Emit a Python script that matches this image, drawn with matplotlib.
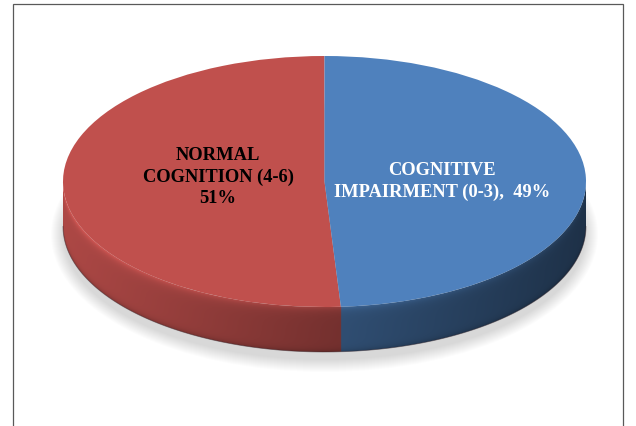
import numpy as np
import matplotlib.pyplot as plt
from matplotlib.patches import Ellipse, Rectangle, Polygon
from matplotlib.colors import to_rgb

# cognition score groups
categories = ["NORMAL\nCOGNITION (4-6)", "COGNITIVE\nIMPAIRMENT (0-3)"]
values = [51, 49]
colors = ["#C0504D", "#4F81BD"]
label_sep = ["\n", ",  "]
label_colors = ["black", "white"]
label_pos = [(-0.407, 0.044), (0.449, 0.008)]

W, H = 636, 427
fig = plt.figure(figsize=(W / 100, H / 100), dpi=100)
ax = fig.add_axes([0, 0, 1, 1])

# ellipse in pixels: centre, half width, half height, thickness of the disc
cx, cy = 324.5, 182.5
a, b = 261.5, 125.5
depth = 45 / b

wedges, _ = ax.pie(values, colors=colors, startangle=90, counterclock=True,
                   wedgeprops=dict(linewidth=0, zorder=5))
ax.set_aspect("auto")
ax.set_xlim(-cx / a, (W - cx) / a)
ax.set_ylim((cy - H) / b, cy / b)
ax.axis("off")

# soft drop shadow under the disc
for e in range(13):
    ax.add_patch(Ellipse((0, -depth - 8 / b), 2 * (a + e) / a, 2 * (b + e) / b,
                         facecolor="black", edgecolor="none", alpha=0.011, zorder=1))

# side wall of the disc: shaded image clipped to the front rim
nx, ny = 1200, 260
X, Y = np.meshgrid(np.linspace(-1, 1, nx), np.linspace(0, -1 - depth, ny))
ytop = -np.sqrt(np.clip(1 - X ** 2, 0, 1))
t = np.clip((ytop - Y) / depth, 0, 1)
theta = 360 - np.degrees(np.arccos(X))
sx = np.interp(X, [-1, 0, 1], [0.9, 0.62, 0.38])
f = sx * (1 + 0.32 * np.exp(-t / 0.09)) * (1 - 0.18 * np.exp(-(1 - t) / 0.06))
img = np.zeros((ny, nx, 3))
for w, col in zip(wedges, colors):
    inside = np.zeros_like(X, dtype=bool)
    for off in (0, -360, 360):
        inside |= (theta >= w.theta1 + off) & (theta <= w.theta2 + off)
    img[inside] = np.array(to_rgb(col))
img = np.clip(img * f[..., None], 0, 1)

ang = np.radians(np.linspace(180, 360, 361))
rim = np.column_stack([np.cos(ang), np.sin(ang)])
outline = np.vstack([rim, (rim - [0, depth])[::-1]])
clip = Polygon(outline, closed=True, transform=ax.transData)
im = ax.imshow(img, extent=(-1, 1, -1 - depth, 0), origin="upper",
               interpolation="bilinear", aspect="auto", zorder=3)
im.set_clip_path(clip)
ax.plot(outline[len(rim):, 0], outline[len(rim):, 1], color="#3a2a30", lw=0.6,
        alpha=0.5, zorder=3)
ax.set_xlim(-cx / a, (W - cx) / a)
ax.set_ylim((cy - H) / b, cy / b)

for cat, v, sep, tc, (tx, ty) in zip(categories, values, label_sep, label_colors, label_pos):
    ax.text(tx, ty, f"{cat}{sep}{v}%", ha="center", va="center", color=tc,
            fontsize=13.3, fontweight="bold", family="Liberation Serif",
            linespacing=1.3, zorder=10)

fig.add_artist(Rectangle((13 / W, -0.05), 610 / W, 1 - 5 / H + 0.05, transform=fig.transFigure,
                         fill=False, edgecolor="#595959", linewidth=0.9))

fig.savefig("out.png", dpi=100)
